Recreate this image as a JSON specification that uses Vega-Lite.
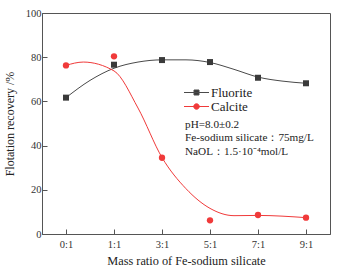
{
  "$schema": "https://vega.github.io/schema/vega-lite/v6.json",
  "width": 288,
  "height": 221,
  "autosize": "none",
  "padding": {"left": 42, "top": 13, "right": 11, "bottom": 36},
  "background": "white",
  "config": {
    "view": {"stroke": "#555", "strokeWidth": 1},
    "font": "Liberation Serif",
    "axis": {"labelFont": "Liberation Serif", "titleFont": "Liberation Serif", "labelColor": "#333", "titleColor": "#222", "domainColor": "#555", "tickColor": "#555", "grid": false, "titleFontWeight": "normal"}
  },
  "datasets": {
    "pts": [
      {"series": "Fluorite", "idx": 0, "value": 61.7},
      {"series": "Fluorite", "idx": 1, "value": 76.6},
      {"series": "Fluorite", "idx": 2, "value": 78.7},
      {"series": "Fluorite", "idx": 3, "value": 77.8},
      {"series": "Fluorite", "idx": 4, "value": 70.7},
      {"series": "Fluorite", "idx": 5, "value": 68.2},
      {"series": "Calcite", "idx": 0, "value": 76.3},
      {"series": "Calcite", "idx": 1, "value": 80.4},
      {"series": "Calcite", "idx": 2, "value": 34.5},
      {"series": "Calcite", "idx": 3, "value": 6.2},
      {"series": "Calcite", "idx": 4, "value": 8.6},
      {"series": "Calcite", "idx": 5, "value": 7.4}
    ],
    "fit": [
      {"series": "Fluorite", "idx": 0, "value": 61.7},
      {"series": "Fluorite", "idx": 0.5, "value": 69.5},
      {"series": "Fluorite", "idx": 1, "value": 75.0},
      {"series": "Fluorite", "idx": 1.5, "value": 77.8},
      {"series": "Fluorite", "idx": 2, "value": 78.8},
      {"series": "Fluorite", "idx": 2.5, "value": 78.8},
      {"series": "Fluorite", "idx": 3, "value": 77.6},
      {"series": "Fluorite", "idx": 3.5, "value": 74.5},
      {"series": "Fluorite", "idx": 4, "value": 71.0},
      {"series": "Fluorite", "idx": 4.5, "value": 69.2},
      {"series": "Fluorite", "idx": 5, "value": 68.2},
      {"series": "Calcite", "idx": 0, "value": 76.3},
      {"series": "Calcite", "idx": 0.36, "value": 77.8},
      {"series": "Calcite", "idx": 1, "value": 73.8},
      {"series": "Calcite", "idx": 1.5, "value": 57.0},
      {"series": "Calcite", "idx": 2, "value": 34.6},
      {"series": "Calcite", "idx": 2.5, "value": 20.5},
      {"series": "Calcite", "idx": 3, "value": 11.6},
      {"series": "Calcite", "idx": 3.5, "value": 8.3},
      {"series": "Calcite", "idx": 4, "value": 8.4},
      {"series": "Calcite", "idx": 5, "value": 7.4}
    ],
    "note": [
      {"x": 2.48, "y": 52.2, "text": "pH=8.0±0.2\nFe-sodium silicate：75mg/L\nNaOL：1.5·10⁻⁴mol/L"}
    ]
  },
  "layer": [
    {
      "data": {"name": "fit"},
      "mark": {"type": "line", "interpolate": "monotone", "strokeWidth": 1},
      "encoding": {
        "x": {"field": "idx", "type": "quantitative", "scale": {"domain": [-0.5, 5.5], "nice": false, "zero": false},
          "axis": {"orient": "bottom", "values": [0, 0.5, 1, 1.5, 2, 2.5, 3, 3.5, 4, 4.5, 5],
            "labelExpr": "datum.value == 0 ? '0:1' : datum.value == 1 ? '1:1' : datum.value == 2 ? '3:1' : datum.value == 3 ? '5:1' : datum.value == 4 ? '7:1' : datum.value == 5 ? '9:1' : ''",
            "labelOverlap": false, "labelFlush": false,
            "tickSize": {"condition": {"test": "datum.value % 1 == 0", "value": -5}, "value": -3},
            "labelPadding": 10, "labelFontSize": 10.5, "title": "Mass ratio of Fe-sodium silicate", "titleFontSize": 12.3, "titlePadding": 5}},
        "y": {"field": "value", "type": "quantitative", "scale": {"domain": [0, 100], "nice": false},
          "axis": {"orient": "left", "values": [0, 10, 20, 30, 40, 50, 60, 70, 80, 90, 100],
            "labelExpr": "datum.value % 20 == 0 ? datum.label : ''",
            "labelOverlap": false,
            "tickSize": {"condition": {"test": "datum.value % 20 == 0", "value": -5}, "value": -3},
            "labelPadding": 6, "labelFontSize": 10.5, "title": "Flotation recovery /%", "titleFontSize": 12, "titlePadding": 9}},
        "color": {"field": "series", "type": "nominal", "scale": {"domain": ["Fluorite", "Calcite"], "range": ["#4a4a4a", "#f03a3a"]},
          "legend": {"orient": "none", "legendX": 148, "legendY": 73, "title": null, "padding": 0, "rowPadding": 0, "symbolSize": 100, "labelOffset": 8, "labelFontSize": 13, "labelColor": "#222", "labelFont": "Liberation Serif",
            "encode": {"symbols": {"update": {
              "shape": {"signal": "datum.value == 'Fluorite' ? 'M-2.5,0H2.5M-0.5,-0.5H0.5V0.5H-0.5Z' : 'M-2.5,0H2.5M0.55,0A0.55,0.55,0,1,1,-0.55,0A0.55,0.55,0,1,1,0.55,0Z'"},
              "fill": {"signal": "datum.value == 'Fluorite' ? '#3a3a3a' : '#f03a3a'"},
              "stroke": {"signal": "datum.value == 'Fluorite' ? '#4a4a4a' : '#f03a3a'"},
              "strokeWidth": {"value": 1}
            }}}}}
      }
    },
    {
      "data": {"name": "pts"},
      "transform": [{"filter": "datum.series == 'Fluorite'"}],
      "mark": {"type": "point", "shape": "square", "filled": true, "opacity": 1, "size": 36, "color": "#3a3a3a"},
      "encoding": {
        "x": {"field": "idx", "type": "quantitative"},
        "y": {"field": "value", "type": "quantitative"}
      }
    },
    {
      "data": {"name": "pts"},
      "transform": [{"filter": "datum.series == 'Calcite'"}],
      "mark": {"type": "point", "shape": "circle", "filled": true, "opacity": 1, "size": 40, "color": "#f03a3a"},
      "encoding": {
        "x": {"field": "idx", "type": "quantitative"},
        "y": {"field": "value", "type": "quantitative"}
      }
    },
    {
      "data": {"name": "note"},
      "mark": {"type": "text", "align": "left", "baseline": "top", "font": "Liberation Serif", "fontSize": 11.2, "color": "#222", "lineHeight": 13.5, "lineBreak": "\n"},
      "encoding": {
        "x": {"field": "x", "type": "quantitative"},
        "y": {"field": "y", "type": "quantitative"},
        "text": {"field": "text"}
      }
    }
  ]
}
